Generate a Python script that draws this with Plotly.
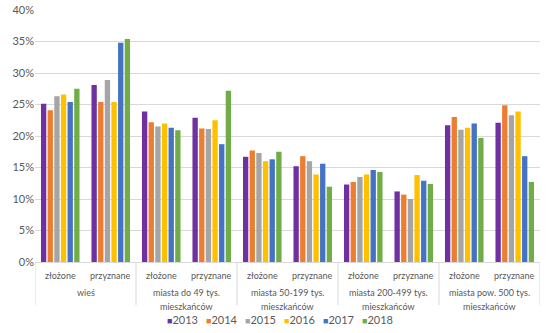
import plotly.graph_objects as go

groups_line1 = ["wieś", "miasta do 49 tys.", "miasta 50-199 tys.", "miasta 200-499 tys.", "miasta pow. 500 tys."]
groups_line2 = ["", "mieszkańców", "mieszkańców", "mieszkańców", "mieszkańców"]
subs = ["złożone", "przyznane"]
years = ["2013", "2014", "2015", "2016", "2017", "2018"]
colors = ["#7030A0", "#ED7D31", "#A5A5A5", "#FFC000", "#4472C4", "#70AD47"]

# values in % ; order per year: (group, sub) pairs
v2013 = [25.1, 28.1, 23.9, 22.9, 16.7, 15.2, 12.3, 11.2, 21.7, 22.1]
v2014 = [24.1, 25.4, 22.2, 21.2, 17.7, 16.8, 12.7, 10.7, 23.0, 24.9]
v2015 = [26.3, 28.9, 21.5, 21.1, 17.3, 16.0, 13.5, 10.0, 21.0, 23.3]
v2016 = [26.6, 25.4, 22.0, 22.5, 16.0, 13.9, 13.9, 13.8, 21.3, 23.9]
v2017 = [25.4, 34.8, 21.3, 18.7, 16.3, 15.6, 14.6, 12.9, 22.0, 16.8]
v2018 = [27.5, 35.4, 20.9, 27.2, 17.5, 11.95, 14.3, 12.4, 19.7, 12.7]
series = [v2013, v2014, v2015, v2016, v2017, v2018]

cats = [f"{g}|{s}" for g in groups_line1 for s in subs]

W, H = 550, 333
L, R, T, B = 35, 10, 10, 71
pw, ph = W - L - R, H - T - B


def py(pix):  # pixel y -> paper y
    return (H - B - pix) / ph if False else ((T + ph) - pix) / ph


def px(pix):
    return (pix - L) / pw


fig = go.Figure()
for y, c, vals in zip(years, colors, series):
    fig.add_trace(go.Bar(x=cats, y=[v / 100 for v in vals], name=y,
                         marker=dict(color=c, line=dict(width=0))))

ann = []
# sub-category labels
for i, cat in enumerate(cats):
    ann.append(dict(x=i, xref="x", y=py(275), yref="paper", text=subs[i % 2],
                    showarrow=False, xanchor="center", yanchor="middle",
                    font=dict(size=9, color="#595959")))
# group labels
for gi in range(len(groups_line1)):
    ann.append(dict(x=2 * gi + 0.5, xref="x", y=py(292), yref="paper", text=groups_line1[gi],
                    showarrow=False, xanchor="center", yanchor="middle",
                    font=dict(size=9, color="#595959")))
    if groups_line2[gi]:
        ann.append(dict(x=2 * gi + 0.5, xref="x", y=py(306), yref="paper", text=groups_line2[gi],
                        showarrow=False, xanchor="center", yanchor="middle",
                        font=dict(size=9, color="#595959")))
# legend
start, pitch = 165, 38.9
for k, (yr, c) in enumerate(zip(years, colors)):
    ann.append(dict(x=px(start + k * pitch), xref="paper", y=py(319), yref="paper",
                    text=f"<span style='color:{c};font-size:9px'>■</span>{yr}",
                    showarrow=False, xanchor="left", yanchor="middle",
                    font=dict(size=11, color="#595959")))

shapes = []
for gi in range(len(groups_line1) + 1):
    shapes.append(dict(type="line", xref="x", yref="paper", x0=2 * gi - 0.5, x1=2 * gi - 0.5,
                       y0=0, y1=py(305), line=dict(color="#d9d9d9", width=1)))

fig.update_layout(
    width=W, height=H,
    margin=dict(l=L, r=R, t=T, b=B),
    paper_bgcolor="white", plot_bgcolor="white",
    barmode="group", bargap=0.21, bargroupgap=0.2,
    font=dict(family="Lato", color="#595959", size=9),
    showlegend=False,
    annotations=ann, shapes=shapes,
)
fig.update_yaxes(range=[0, 0.4], dtick=0.05, tickformat=".0%", showgrid=True,
                 gridcolor="#d9d9d9", gridwidth=1, zeroline=False, showline=False,
                 tickfont=dict(size=11, color="#595959"), ticks="", automargin=False)
fig.update_xaxes(type="category", showline=True, linecolor="#d9d9d9", linewidth=1,
                 showticklabels=False, ticks="", automargin=False, range=[-0.5, 9.5])

fig.write_html("out.html")
